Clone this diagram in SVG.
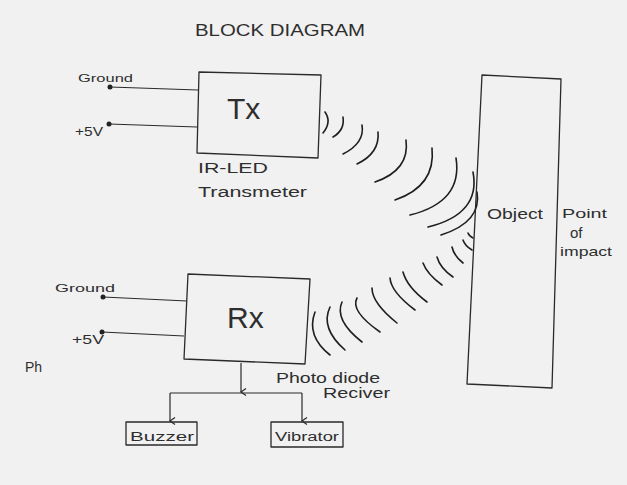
<svg xmlns="http://www.w3.org/2000/svg" width="627" height="485" viewBox="0 0 627 485">
<defs>
<style>
.box{fill:none;stroke:#2a2a2a;stroke-width:1.3;stroke-linejoin:round}
.ln{fill:none;stroke:#2a2a2a;stroke-width:1.2}
.wave{fill:none;stroke:#1e1e1e;stroke-width:1.6;stroke-linecap:round}
.t{font-family:"Liberation Sans","DejaVu Sans",sans-serif;fill:#2e2e2e}
.dot{fill:#222}
</style>
<marker id="arr" markerWidth="10" markerHeight="10" refX="5" refY="8" orient="auto" markerUnits="userSpaceOnUse" viewBox="0 0 10 10">
<path d="M1.5,3 L5,8 L8.5,3" fill="none" stroke="#2a2a2a" stroke-width="1.2"/>
</marker>
</defs>
<rect width="627" height="485" fill="#f1f1f1"/>
<text class="t" x="195" y="36" font-size="17" textLength="170" lengthAdjust="spacingAndGlyphs">BLOCK DIAGRAM</text>

<g id="connectors">
<line class="ln" x1="110" y1="87" x2="198" y2="90"/>
<line class="ln" x1="109" y1="124" x2="197" y2="127"/>
<circle class="dot" cx="110" cy="87" r="2.5"/>
<circle class="dot" cx="109" cy="124" r="2.5"/>
<line class="ln" x1="103" y1="297" x2="187" y2="301"/>
<line class="ln" x1="102" y1="332" x2="184" y2="336"/>
<circle class="dot" cx="103" cy="297" r="2.5"/>
<circle class="dot" cx="102" cy="332" r="2.5"/>
<line class="ln" x1="241" y1="363" x2="241" y2="392" marker-end="url(#arr)"/>
<line class="ln" x1="170" y1="393" x2="302" y2="393"/>
<line class="ln" x1="170" y1="393" x2="170" y2="421" marker-end="url(#arr)"/>
<line class="ln" x1="302" y1="393" x2="302" y2="421" marker-end="url(#arr)"/>
</g>

<g id="waves">
<path class="wave" d="M325,112 Q332,122 323,133"/>
<path class="wave" d="M343,117 Q345,130 333,137"/>
<path class="wave" d="M362,125 Q365,143 343,154"/>
<path class="wave" d="M378,132 Q380,153 357,164"/>
<path class="wave" d="M406,140 Q410,170 375,182"/>
<path class="wave" d="M432,148 Q436,186 395,200"/>
<path class="wave" d="M456,158 Q463,202 410,215"/>
<path class="wave" d="M473,172 Q481,214 428,227"/>
<path class="wave" d="M477,192 Q482,222 441,235"/>
<path class="wave" d="M315,312 Q306,336 330,355"/>
<path class="wave" d="M330,307 Q320,328 345,350"/>
<path class="wave" d="M342,302 Q334,320 362,342"/>
<path class="wave" d="M357,298 Q350,311 380,332"/>
<path class="wave" d="M372,288 Q372,303 397,323"/>
<path class="wave" d="M390,278 Q391,292 415,310"/>
<path class="wave" d="M403,272 Q407,287 427,302"/>
<path class="wave" d="M423,263 Q427,274 442,285"/>
<path class="wave" d="M437,257 Q440,268 453,277"/>
<path class="wave" d="M452,247 Q454,256 463,263"/>
<path class="wave" d="M463,240 Q465,246 472,250"/>
<path class="wave" d="M468,233 Q469,236 473,238"/>
</g>

<g id="tx">
<polygon class="box" points="199,72 321,75 318,158 197,153"/>
<text class="t" x="227" y="119" font-size="30">Tx</text>
<text class="t" x="198" y="173" font-size="15" textLength="70" lengthAdjust="spacingAndGlyphs">IR-LED</text>
<text class="t" x="198" y="197" font-size="14" textLength="109" lengthAdjust="spacingAndGlyphs">Transmeter</text>
<text class="t" x="78" y="82" font-size="11" textLength="55" lengthAdjust="spacingAndGlyphs">Ground</text>
<text class="t" x="75" y="136" font-size="13" textLength="28" lengthAdjust="spacingAndGlyphs">+5V</text>
</g>

<g id="rx">
<polygon class="box" points="188,274 310,279 305,364 184,359"/>
<text class="t" x="227" y="328" font-size="30">Rx</text>
<text class="t" x="276" y="383" font-size="15" textLength="104" lengthAdjust="spacingAndGlyphs">Photo diode</text>
<text class="t" x="323" y="398" font-size="14" textLength="67" lengthAdjust="spacingAndGlyphs">Reciver</text>
<text class="t" x="55" y="292" font-size="11" textLength="60" lengthAdjust="spacingAndGlyphs">Ground</text>
<text class="t" x="72" y="344" font-size="13" textLength="32" lengthAdjust="spacingAndGlyphs">+5V</text>
</g>

<g id="buzzer">
<rect class="box" x="126" y="422" width="71" height="23"/>
<text class="t" x="130" y="441" font-size="12" textLength="64" lengthAdjust="spacingAndGlyphs">Buzzer</text>
</g>

<g id="vibrator">
<rect class="box" x="271" y="422" width="72" height="25"/>
<text class="t" x="275" y="441" font-size="12" textLength="64" lengthAdjust="spacingAndGlyphs">Vibrator</text>
</g>

<g id="object">
<polygon class="box" points="482,75 561,79 552,388 467,384"/>
<text class="t" x="487" y="219" font-size="15" textLength="56" lengthAdjust="spacingAndGlyphs">Object</text>
<text class="t" x="562" y="218" font-size="13" textLength="45" lengthAdjust="spacingAndGlyphs">Point</text>
<text class="t" x="570" y="238" font-size="15">of</text>
<text class="t" x="560" y="256" font-size="13" textLength="52" lengthAdjust="spacingAndGlyphs">impact</text>
</g>

<text class="t" x="25" y="372" font-size="14">Ph</text>
</svg>
